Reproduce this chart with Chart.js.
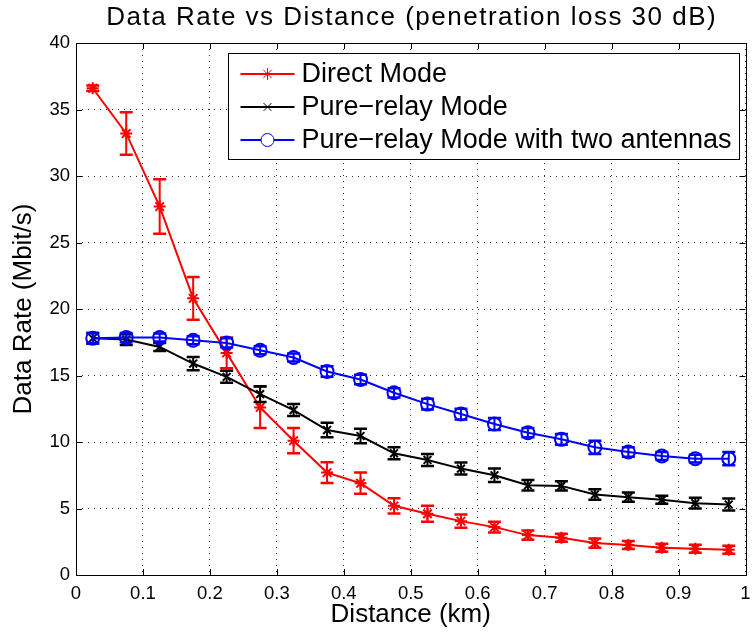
<!DOCTYPE html>
<html>
<head>
<meta charset="utf-8">
<title>Data Rate vs Distance</title>
<script src="https://cdn.jsdelivr.net/npm/chart.js@4.4.1/dist/chart.umd.min.js"></script>
<style>
  html, body { margin: 0; padding: 0; background: #fff; }
  #wrap { width: 754px; height: 639px; }
</style>
</head>
<body>
<div id="wrap"><canvas id="rateChart"></canvas></div>
<script>
const FONT = '"Liberation Sans", Arial, Helvetica, sans-serif';

// distance (km) at which each rate was simulated
const distances = [0.025, 0.075, 0.125, 0.175, 0.225, 0.275, 0.325, 0.375, 0.425, 0.475,
                   0.525, 0.575, 0.625, 0.675, 0.725, 0.775, 0.825, 0.875, 0.925, 0.975];

// data rates in Mbit/s, with half-width of the error bars
const directRate = [36.6, 33.2, 27.7, 20.8, 16.7, 12.6, 10.1, 7.7, 6.9, 5.2,
                    4.6, 4.05, 3.6, 3.0, 2.8, 2.4, 2.25, 2.05, 1.97, 1.9];
const directErr = [0.2, 1.6, 2.05, 1.6, 1.15, 1.55, 0.95, 0.78, 0.8, 0.58,
                   0.6, 0.5, 0.4, 0.35, 0.3, 0.35, 0.3, 0.3, 0.3, 0.3];

const relayRate = [17.8, 17.7, 17.15, 15.9, 14.9, 13.6, 12.4, 10.9, 10.45, 9.15,
                   8.65, 8.0, 7.5, 6.75, 6.7, 6.05, 5.85, 5.65, 5.4, 5.3];
const relayErr = [0.4, 0.4, 0.3, 0.5, 0.45, 0.6, 0.45, 0.55, 0.55, 0.45,
                  0.45, 0.45, 0.5, 0.4, 0.35, 0.4, 0.35, 0.3, 0.4, 0.45];

const twoAntRate = [17.8, 17.85, 17.85, 17.65, 17.45, 16.9, 16.35, 15.3, 14.7, 13.7,
                    12.85, 12.1, 11.35, 10.7, 10.2, 9.6, 9.25, 8.95, 8.75, 8.75];
const twoAntErr = [0.4, 0.35, 0.3, 0.3, 0.35, 0.3, 0.3, 0.4, 0.35, 0.35,
                   0.4, 0.4, 0.45, 0.35, 0.4, 0.5, 0.35, 0.3, 0.3, 0.5];

const seriesLabels = ['Direct Mode', 'Pure\u2212relay Mode', 'Pure\u2212relay Mode with two antennas'];
const chartTitle = 'Data Rate vs Distance (penetration loss 30 dB)';

const toPoints = rates => distances.map((d, i) => ({ x: d, y: rates[i] }));

// vertical error bars with caps, drawn right after their own series
const errorBars = {
  id: 'errorBars',
  afterDatasetDraw(chart, args) {
    const ds = chart.data.datasets[args.index];
    if (!ds.errors) return;
    const { x, y } = chart.scales;
    const ctx = chart.ctx;
    ctx.save();
    ctx.strokeStyle = ds.borderColor;
    ds.data.forEach((p, i) => {
      const px = x.getPixelForValue(p.x);
      const top = y.getPixelForValue(p.y + ds.errors[i]);
      const bot = y.getPixelForValue(p.y - ds.errors[i]);
      ctx.lineWidth = 2;
      ctx.beginPath();
      ctx.moveTo(px, top); ctx.lineTo(px, bot);
      ctx.stroke();
      ctx.lineWidth = 2.5;
      ctx.beginPath();
      ctx.moveTo(px - 6.5, top); ctx.lineTo(px + 6.5, top);
      ctx.moveTo(px - 6.5, bot); ctx.lineTo(px + 6.5, bot);
      ctx.stroke();
    });
    ctx.restore();
  }
};

// axes box with inward ticks, matlab style
const axesBox = {
  id: 'axesBox',
  afterDraw(chart) {
    const { ctx, chartArea: a, scales } = chart;
    ctx.save();
    ctx.strokeStyle = '#000';
    ctx.lineWidth = 1;
    ctx.beginPath();
    scales.x.ticks.forEach(t => {
      const px = Math.round(scales.x.getPixelForValue(t.value)) + 0.5;
      ctx.moveTo(px, a.bottom); ctx.lineTo(px, a.bottom - 6);
      ctx.moveTo(px, a.top); ctx.lineTo(px, a.top + 6);
    });
    scales.y.ticks.forEach(t => {
      const py = Math.round(scales.y.getPixelForValue(t.value)) + 0.5;
      ctx.moveTo(a.left, py); ctx.lineTo(a.left + 6, py);
      ctx.moveTo(a.right, py); ctx.lineTo(a.right - 6, py);
    });
    ctx.stroke();
    ctx.strokeRect(Math.round(a.left) + 0.5, Math.round(a.top) + 0.5,
                   Math.round(a.right - a.left), Math.round(a.bottom - a.top));
    ctx.restore();
  }
};

// title centred over the plot area + boxed legend in the top right corner
const titleAndLegend = {
  id: 'titleAndLegend',
  afterDraw(chart) {
    const { ctx, chartArea: a } = chart;
    ctx.save();
    ctx.fillStyle = '#000';
    ctx.font = '26px ' + FONT;
    ctx.textAlign = 'center';
    ctx.textBaseline = 'alphabetic';
    if ('letterSpacing' in ctx) ctx.letterSpacing = '1.5px';
    ctx.fillText(chartTitle, (a.left + a.right) / 2 + 1, 25);
    if ('letterSpacing' in ctx) ctx.letterSpacing = '0px';

    ctx.font = '27px ' + FONT;
    const textW = Math.max(...seriesLabels.map(s => ctx.measureText(s).width));
    const boxW = 12 + 54 + 7 + textW + 8;
    const boxH = 106;
    const bx = Math.round(a.right - 7 - boxW) + 0.5;
    const by = Math.round(a.top + 10) + 0.5;
    ctx.fillStyle = '#fff';
    ctx.fillRect(bx, by, boxW, boxH);
    ctx.strokeStyle = '#000';
    ctx.lineWidth = 1;
    ctx.strokeRect(bx, by, boxW, boxH);

    seriesLabels.forEach((label, row) => {
      const ds = chart.data.datasets.find(d => d.label === label);
      const cy = by + 20.5 + row * 33;
      const x0 = bx + 12, x1 = x0 + 54;
      ctx.strokeStyle = ds.borderColor;
      ctx.lineWidth = 2;
      ctx.beginPath();
      ctx.moveTo(x0, cy); ctx.lineTo(x1, cy);
      ctx.stroke();
      ctx.fillStyle = '#fff';
      ctx.lineWidth = 1;
      Chart.helpers.drawPoint(ctx, {
        pointStyle: ds.pointStyle, radius: ds.pointRadius, borderWidth: 1, rotation: 0
      }, (x0 + x1) / 2, cy);
      ctx.fillStyle = '#000';
      ctx.textAlign = 'left';
      ctx.textBaseline = 'middle';
      ctx.fillText(label, x1 + 7, cy + 1);
    });
    ctx.restore();
  }
};

Chart.defaults.font.family = FONT;
Chart.defaults.color = '#000';

const tickText = v => String(Number(v.toFixed(1)));

new Chart(document.getElementById('rateChart'), {
  type: 'line',
  data: {
    datasets: [{
      label: seriesLabels[0],
      data: toPoints(directRate),
      errors: directErr,
      borderColor: '#ff0000',
      backgroundColor: '#ff0000',
      borderWidth: 2,
      pointStyle: 'star',
      pointRadius: 6,
      pointBorderWidth: 2,
      order: 2
    }, {
      label: seriesLabels[1],
      data: toPoints(relayRate),
      errors: relayErr,
      borderColor: '#000000',
      backgroundColor: '#000000',
      borderWidth: 2,
      pointStyle: 'crossRot',
      pointRadius: 5.5,
      pointBorderWidth: 2,
      order: 1
    }, {
      label: seriesLabels[2],
      data: toPoints(twoAntRate),
      errors: twoAntErr,
      borderColor: '#0000ff',
      backgroundColor: 'rgba(0,0,0,0)',
      borderWidth: 2,
      pointStyle: 'circle',
      pointRadius: 6.5,
      pointBorderWidth: 2,
      order: 0
    }]
  },
  options: {
    responsive: true,
    maintainAspectRatio: false,
    animation: false,
    devicePixelRatio: 1,
    layout: { padding: { top: 43, right: 4, left: 0, bottom: 0 } },
    plugins: {
      legend: { display: false },
      title: { display: false },
      tooltip: { enabled: false }
    },
    scales: {
      x: {
        type: 'linear',
        min: 0,
        max: 1,
        ticks: { stepSize: 0.1, font: { size: 18.5 }, padding: 8, maxRotation: 0, callback: tickText },
        grid: { color: '#333', lineWidth: 1, drawTicks: false },
        border: { display: false, dash: [1, 5] },
        title: { display: true, text: 'Distance (km)', font: { size: 26 }, padding: { top: 0, bottom: 9 } },
        afterFit: s => { s.height = 64; s.paddingLeft = 0; s.paddingRight = 4; }
      },
      y: {
        min: 0,
        max: 40,
        ticks: { stepSize: 5, font: { size: 18.5 }, padding: 6 },
        grid: { color: '#333', lineWidth: 1, drawTicks: false },
        border: { display: false, dash: [1, 5] },
        title: { display: true, text: 'Data Rate (Mbit/s)', font: { size: 26 }, padding: { top: 8, bottom: 0 } },
        afterFit: s => { s.width = 76; }
      }
    }
  },
  plugins: [errorBars, axesBox, titleAndLegend]
});
</script>
</body>
</html>
